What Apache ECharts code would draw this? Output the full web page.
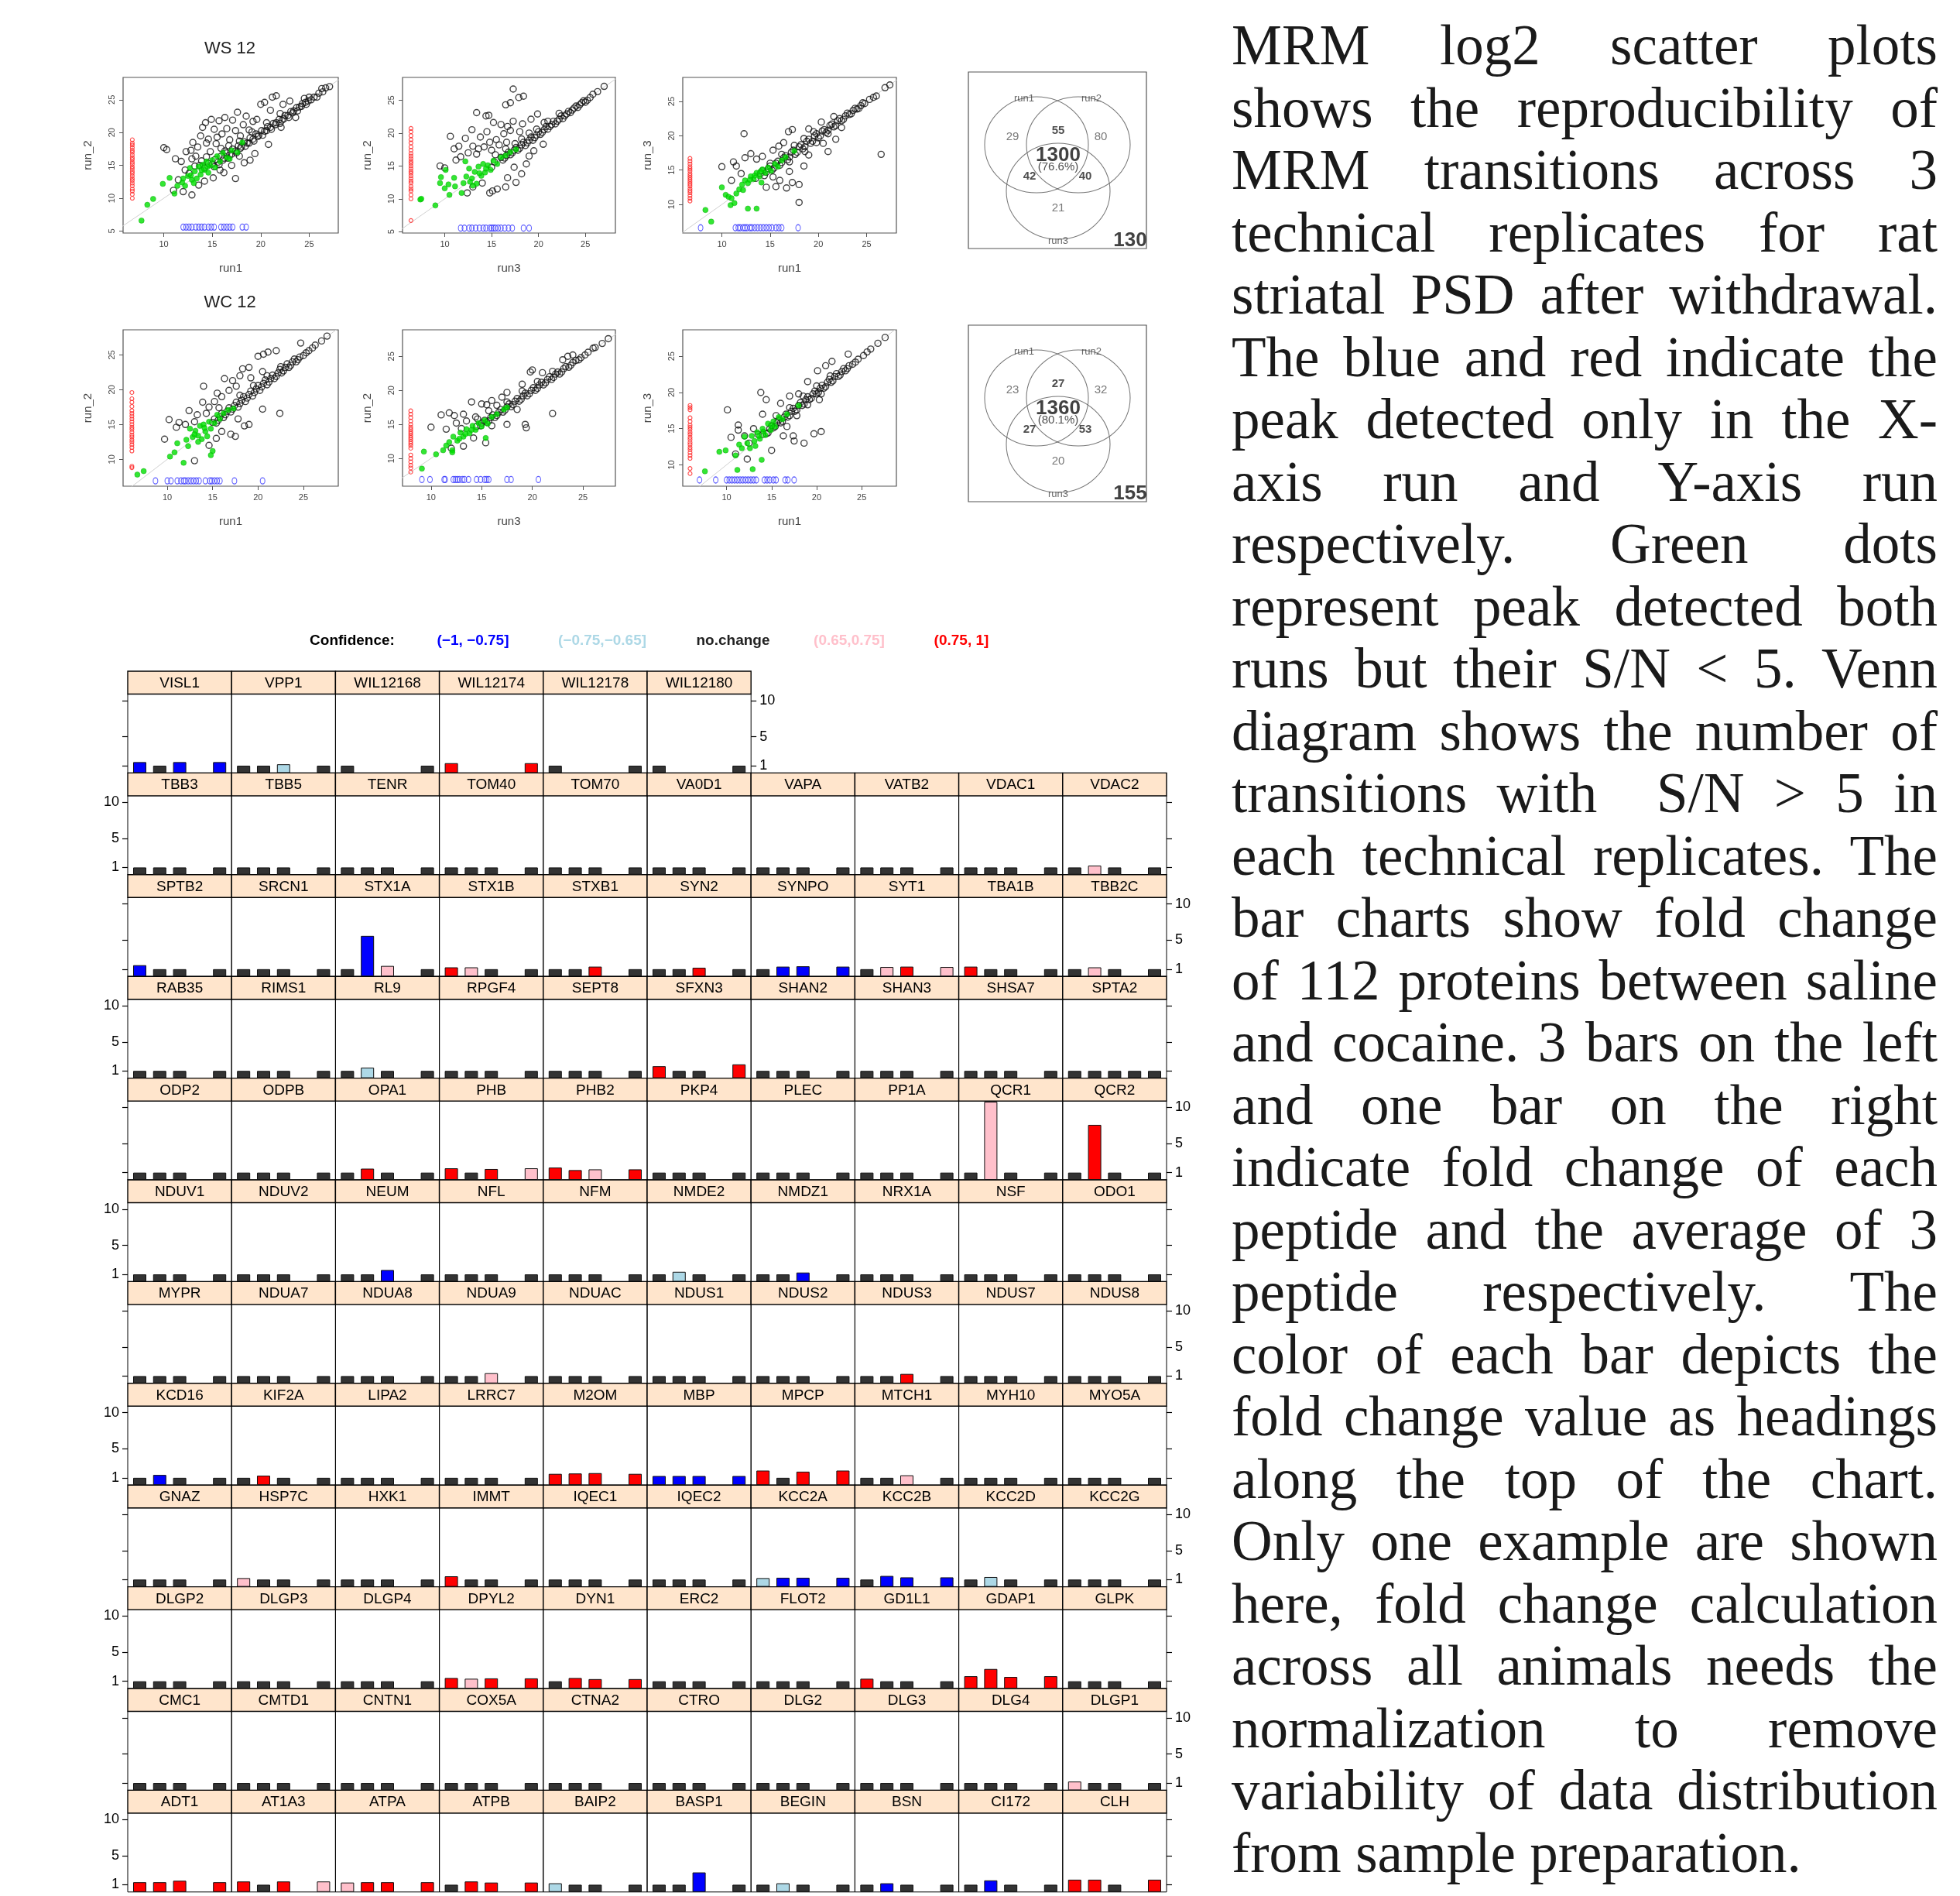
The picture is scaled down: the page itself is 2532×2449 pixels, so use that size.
<!DOCTYPE html>
<html>
<head>
<meta charset="utf-8">
<title>MRM reproducibility and fold change</title>
<script src="https://cdn.jsdelivr.net/npm/echarts@6/dist/echarts.min.js"></script>
<style>
  html, body { margin: 0; padding: 0; background: #fff; }
  #chart { position: absolute; left: 0; top: 0; width: 1570px; height: 2449px; }
  #note {
    position: absolute; left: 1591px; top: 19px; width: 912px;
    font-family: 'Liberation Serif', 'Times New Roman', serif;
    font-size: 73px; line-height: 80.5px; color: #1a1a1a;
  }
  #note div { text-align: justify; text-align-last: justify; }
  #note div.last { text-align-last: left; }
</style>
</head>
<body>
<div id="chart"></div>
<div id="note">
  <div>MRM log2 scatter plots</div>
  <div>shows the reproducibility of</div>
  <div>MRM transitions across 3</div>
  <div>technical replicates for rat</div>
  <div>striatal PSD after withdrawal.</div>
  <div>The blue and red indicate the</div>
  <div>peak detected only in the X-</div>
  <div>axis run and Y-axis run</div>
  <div>respectively. Green dots</div>
  <div>represent peak detected both</div>
  <div>runs but their S/N &lt; 5. Venn</div>
  <div>diagram shows the number of</div>
  <div>transitions with &nbsp;S/N &gt; 5 in</div>
  <div>each technical replicates. The</div>
  <div>bar charts show fold change</div>
  <div>of 112 proteins between saline</div>
  <div>and cocaine. 3 bars on the left</div>
  <div>and one bar on the right</div>
  <div>indicate fold change of each</div>
  <div>peptide and the average of 3</div>
  <div>peptide respectively. The</div>
  <div>color of each bar depicts the</div>
  <div>fold change value as headings</div>
  <div>along the top of the chart.</div>
  <div>Only one example are shown</div>
  <div>here, fold change calculation</div>
  <div>across all animals needs the</div>
  <div>normalization to remove</div>
  <div>variability of data distribution</div>
  <div class="last">from sample preparation.</div>
</div>
<script>
// ---------- scatter data (log2 intensity, [x run, y run]) ----------
// WS 12: run1 vs run_2
const wsRun1Run2Black = [
  [14.2,14.6],[14.6,15.3],[15.0,15.2],[15.3,15.9],[15.6,15.5],[15.9,16.4],[16.2,16.1],[16.5,16.9],[16.8,16.6],[17.1,17.5],
  [17.4,17.2],[17.7,18.0],[18.0,17.8],[18.3,18.6],[18.6,18.4],[18.9,19.2],[19.2,19.0],[19.5,19.8],[19.8,19.6],[20.1,20.3],
  [20.4,20.2],[20.7,20.9],[21.0,20.8],[21.3,21.4],[21.6,21.5],[21.9,22.0],[22.2,21.9],[22.5,22.6],[22.8,22.6],[23.1,23.2],
  [23.4,23.3],[23.7,23.8],[24.0,23.9],[24.3,24.4],[24.6,24.6],[24.9,24.8],[25.5,25.4],[26.0,26.0],[26.7,26.8],[27.1,27.0],
  [15.2,14.8],[15.7,15.1],[16.1,15.8],[16.6,16.1],[17.0,16.7],[17.5,16.9],[17.9,17.6],[18.4,17.9],[18.8,18.4],[19.3,18.7],
  [19.7,19.4],[20.2,19.6],[20.6,20.3],[21.1,20.5],[21.5,21.2],[22.0,21.4],[22.4,22.1],[22.9,22.3],[23.3,23.0],[23.8,23.3],
  [24.2,24.0],[24.7,24.3],[25.2,25.0],[25.8,25.4],[26.4,26.2],[16.3,17.2],[17.8,18.7],[19.1,20.1],[20.6,21.5],[22.0,22.9],
  [10.0,17.7],[10.3,17.4],[11.2,16.0],[11.8,15.6],[12.3,17.1],[12.8,17.3],[13.0,18.5],[13.3,16.4],[13.5,17.8],[13.8,19.5],
  [14.0,20.8],[14.3,21.5],[14.6,19.0],[14.9,22.0],[15.2,20.5],[15.4,18.3],[15.7,21.8],[16.0,19.8],[16.3,22.3],[16.5,20.6],
  [16.8,18.9],[17.1,21.9],[17.4,20.3],[17.6,23.1],[17.9,19.5],[18.2,21.2],[18.5,22.5],[18.8,20.4],[19.2,21.7],[19.6,22.0],
  [20.0,24.3],[20.4,24.6],[21.2,25.4],[21.6,25.6],[21.0,23.4],[22.3,24.3],[23.0,24.8],[24.5,25.2],[25.0,25.4],[26.3,26.7],
  [12.9,10.5],[12.0,11.0],[13.6,12.0],[14.2,12.6],[15.1,13.1],[16.2,13.9],[17.4,13.0],[17.0,15.0],[18.3,15.4],[18.9,15.8],
  [19.4,16.8],[20.8,18.2],[22.1,20.8],[23.6,22.3],[15.8,14.3],[17.8,16.4],[11.5,12.8],[12.6,13.8],[13.2,14.9],[13.9,15.7],
  [14.4,16.3],[12.2,14.3],[11.0,11.2],[14.8,17.1],[15.9,17.6],[16.7,18.0],[13.7,15.0],[12.9,16.0],[14.4,18.4],[15.5,19.3]
];
const wsRun1Run2Green = [
  [7.7,6.6],[8.3,9.0],[8.9,9.9],[9.9,12.2],[10.6,13.1],[11.1,10.7],[11.4,11.9],[11.9,12.4],[12.2,11.9],[12.5,13.4],
  [12.7,14.6],[12.9,12.8],[13.2,14.1],[13.4,13.0],[13.6,14.8],[13.8,13.6],[14.0,15.1],[14.2,14.3],[14.4,15.6],[14.6,13.9],
  [14.8,15.0],[15.0,15.8],[15.3,14.7],[15.5,16.4],[15.8,15.6],[16.1,16.9],[16.5,16.2],[17.0,17.3],[17.6,17.0],[18.1,18.5],
  [16.8,16.0],[13.1,12.3],[12.0,13.0],[13.9,14.3],[14.5,14.8],[12.8,13.5]
];
const wsRun1Run2OnlyY = [10.0,10.6,11.1,11.4,11.9,12.3,12.7,13.0,13.4,13.8,14.1,14.5,14.8,15.2,15.5,15.9,16.2,16.6,17.0,17.3,17.7,18.1,18.4,18.9];
const wsRun1Run2OnlyX = [12.0,12.3,12.6,12.9,13.3,13.6,13.9,14.2,14.6,14.9,15.2,15.9,16.2,16.5,16.8,17.1,18.1,18.5];

// WS 12: run3 vs run_2
const wsRun3Run2Black = [
  [16.0,16.3],[16.4,16.2],[16.8,17.1],[17.2,17.0],[17.6,17.8],[18.0,17.7],[18.4,18.6],[18.8,18.5],[19.2,19.4],[19.6,19.3],
  [20.0,20.2],[20.4,20.1],[20.8,21.0],[21.2,21.0],[21.6,21.8],[22.0,21.8],[22.4,22.6],[22.8,22.6],[23.2,23.3],[23.6,23.5],
  [24.0,24.1],[24.4,24.3],[24.8,24.9],[25.2,25.0],[25.8,25.9],[26.3,26.3],[27.0,27.1],[17.5,18.4],[19.0,20.0],[21.0,21.8],
  [15.3,15.6],[15.0,14.8],
  [16.2,15.9],[16.6,16.6],[17.0,16.7],[17.4,17.4],[17.8,17.4],[18.2,18.2],[18.6,18.1],[19.0,18.9],[19.4,18.9],[19.8,19.7],
  [20.2,19.8],[20.6,20.5],[21.0,20.6],[21.4,21.3],[21.8,21.4],[22.2,22.1],[22.6,22.2],[23.0,22.9],[23.4,23.1],[23.8,23.8],
  [24.2,23.9],[24.6,24.6],[25.0,24.7],[25.5,25.4],[16.5,17.6],[18.2,19.1],[19.8,20.6],[20.6,21.6],[22.2,23.0],
  [17.3,26.7],[16.5,24.3],[17.0,24.6],[17.9,25.4],[18.4,25.6],[13.4,23.1],[14.4,22.6],[14.7,22.7],[15.2,21.6],[16.0,21.3],
  [16.7,21.0],[17.3,21.8],[18.3,21.4],[19.2,22.1],[19.9,22.9],[12.9,20.5],[10.6,19.5],[11.5,18.0],[11.0,17.6],[12.2,19.2],
  [13.0,18.0],[13.8,19.4],[14.5,20.2],[15.5,19.0],[16.3,19.9],[17.0,20.4],[11.7,16.4],[12.5,17.0],[13.4,16.8],[14.2,17.9],
  [15.0,17.4],[15.8,18.2],[16.6,18.6],[18.0,20.2],[9.5,15.0],[11.2,15.9],[10.0,14.7],[14.8,18.6],[13.6,17.6],[15.4,16.7],
  [15.6,11.5],[16.5,11.8],[14.8,10.9],[15.1,11.2],[16.7,13.2],[17.6,12.5],[18.2,13.8],[18.7,15.3],[19.5,17.3],[20.5,18.3],
  [17.4,14.8],[14.0,12.4],[13.0,11.8],[12.4,10.9],[19.0,16.5]
];
const wsRun3Run2Green = [
  [7.4,9.9],[7.5,10.0],[9.0,9.0],[9.5,12.4],[9.6,13.3],[10.1,14.4],[10.0,11.6],[10.5,10.6],[10.4,12.2],[11.0,13.2],
  [11.1,11.9],[11.8,10.9],[12.0,12.4],[12.3,13.4],[12.6,14.6],[12.9,13.1],[13.2,14.1],[13.4,12.3],[13.6,14.9],[13.9,13.5],
  [14.1,15.3],[14.3,14.0],[14.6,15.1],[14.9,14.4],[15.2,15.8],[15.6,15.3],[16.0,16.3],[16.5,16.6],[17.0,17.1],[17.6,17.5],
  [12.2,15.7],[13.0,12.0],[13.7,13.9],[14.4,14.6],[12.7,12.6]
];
const wsRun3Run2OnlyY = [6.7,10.0,10.6,11.2,11.5,11.9,12.4,12.7,13.1,13.5,13.9,14.2,14.6,15.0,15.4,15.7,16.1,16.5,16.9,17.4,17.9,18.5,19.0,19.6,20.2,20.7];
const wsRun3Run2OnlyX = [11.7,12.1,12.6,12.9,13.3,13.7,14.1,14.4,14.8,15.0,15.2,15.4,15.7,16.0,16.4,16.8,17.2,18.4,19.0];

// WS 12: run1 vs run_3
const wsRun1Run3Black = [
  [13.5,13.8],[14.0,14.5],[14.4,14.2],[14.8,15.2],[15.2,15.0],[15.6,16.0],[16.0,15.7],[16.4,16.8],[16.8,16.5],[17.2,17.6],
  [17.6,17.3],[18.0,18.4],[18.4,18.1],[18.8,19.2],[19.2,18.9],[19.6,20.0],[20.0,19.7],[20.4,20.7],[20.8,20.5],[21.2,21.5],
  [21.6,21.3],[22.0,22.2],[22.4,22.2],[22.8,22.9],[23.2,23.1],[23.6,23.7],[24.0,23.9],[24.4,24.4],[24.8,24.7],[25.3,25.3],
  [26.0,25.8],[26.9,27.0],[27.4,27.4],[15.0,16.0],[16.2,17.3],[17.5,18.6],[18.5,19.6],[19.5,20.6],[17.0,16.2],[18.6,17.7],
  [19.8,19.0],[21.0,20.3],
  [14.2,14.9],[14.6,14.7],[15.0,15.6],[15.4,15.3],[15.8,16.3],[16.2,16.1],[16.6,17.1],[17.0,16.9],[17.4,17.9],[17.8,17.6],
  [18.2,18.7],[18.6,18.4],[19.0,19.5],[19.4,19.2],[19.8,20.3],[20.2,20.0],[20.6,20.9],[21.0,20.8],[21.4,21.7],[21.8,21.5],
  [22.2,22.5],[22.6,22.4],[23.0,23.3],[23.4,23.2],[23.8,24.0],[24.2,24.0],[24.6,24.8],[25.7,25.6],
  [12.3,20.3],[17.3,20.9],[16.9,20.6],[13.0,17.4],[12.4,16.8],[11.2,16.2],[10.0,15.5],[11.5,15.6],[12.0,14.5],[11.0,13.5],
  [13.6,16.6],[14.2,17.0],[15.3,17.9],[15.9,18.5],[16.4,19.0],[19.0,21.0],[20.3,22.0],[21.6,22.8],[19.0,17.2],[20.5,18.9],
  [21.0,17.7],[21.8,19.5],[22.4,21.2],[26.5,17.3],[18.0,10.3],[17.3,13.2],[18.0,12.9],[16.7,12.4],[15.6,12.6],[14.6,12.5],
  [16.0,13.5],[17.0,14.8],[18.5,15.6],[15.3,14.0]
];
const wsRun1Run3Green = [
  [8.3,9.2],[8.9,7.5],[10.0,12.5],[10.4,11.4],[10.7,11.1],[11.0,10.9],[11.3,10.2],[10.9,9.9],[11.5,11.6],[11.8,12.2],
  [12.1,12.9],[12.4,13.5],[12.7,13.1],[13.0,14.1],[13.3,13.7],[13.6,14.6],[13.9,14.1],[14.2,15.1],[14.5,14.6],[14.8,15.4],
  [15.1,14.9],[15.5,15.9],[15.8,15.5],[16.2,16.4],[16.6,16.9],[17.5,17.8],[12.7,9.4],[13.6,9.4],[12.2,12.1],[14.1,13.2],
  [13.4,14.2],[14.0,14.8],[12.9,13.6]
];
const wsRun1Run3OnlyY = [10.5,10.9,11.3,11.7,12.0,12.3,12.7,13.0,13.3,13.6,13.9,14.2,14.5,14.9,15.2,15.5,15.9,16.3,16.7];
const wsRun1Run3OnlyX = [7.8,11.4,11.7,11.9,12.2,12.4,12.6,12.9,13.1,13.4,13.7,14.0,14.3,14.6,14.9,15.2,15.6,15.9,16.2,17.9];

// WC 12: run1 vs run_2
const wcRun1Run2Black = [
  [15.0,15.3],[15.4,15.2],[15.8,16.1],[16.2,16.0],[16.6,16.9],[17.0,16.8],[17.4,17.7],[17.8,17.5],[18.2,18.5],[18.6,18.3],
  [19.0,19.3],[19.4,19.1],[19.8,20.1],[20.2,19.9],[20.6,20.9],[21.0,20.7],[21.4,21.6],[21.8,21.6],[22.2,22.4],[22.6,22.4],
  [23.0,23.2],[23.4,23.2],[23.8,24.0],[24.2,24.0],[24.6,24.7],[25.0,24.9],[25.6,25.6],[26.3,26.4],[27.0,27.0],[27.6,27.7],
  [18.0,19.2],[19.5,20.6],[21.0,22.0],[22.5,23.3],
  [15.2,15.8],[15.6,15.6],[16.0,16.6],[16.4,16.4],[16.8,17.4],[17.2,17.2],[17.6,18.2],[18.0,18.0],[18.4,19.0],[18.8,18.8],
  [19.2,19.8],[19.6,19.6],[20.0,20.6],[20.4,20.4],[20.8,21.4],[21.2,21.1],[21.6,22.1],[22.0,21.9],[22.4,22.9],[22.8,22.7],
  [23.2,23.7],[23.6,23.5],[24.0,24.4],[24.4,24.3],[25.3,25.3],[26.0,26.0],
  [14.0,20.5],[15.5,19.5],[16.3,21.6],[17.2,21.3],[18.0,22.0],[18.3,23.0],[19.0,23.2],[20.0,24.8],[20.6,25.1],[21.1,25.4],
  [22.0,25.6],[24.7,26.7],[12.4,17.0],[10.2,15.7],[11.3,15.3],[13.3,16.4],[14.6,17.5],[15.2,18.3],[16.0,19.0],[16.8,19.9],
  [17.6,20.5],[19.2,21.7],[20.5,22.6],[13.9,18.2],[12.0,15.0],[11.0,14.6],[9.7,12.9],[14.3,16.6],[15.7,17.4],[13.0,15.4],
  [20.5,17.2],[22.4,16.6],[18.5,14.8],[19.0,15.0],[17.0,13.6],[17.5,13.3],[13.0,9.8],[16.0,14.0],[17.8,15.8],[15.4,13.0],
  [14.6,12.0]
];
const wcRun1Run2Green = [
  [6.7,7.8],[7.4,8.3],[10.3,10.4],[10.8,11.0],[11.1,12.3],[11.8,9.5],[12.1,12.8],[12.5,14.4],[12.8,13.2],[13.1,14.1],
  [13.4,13.4],[13.6,14.8],[13.8,12.9],[14.0,15.0],[14.2,14.0],[14.4,13.3],[14.6,15.4],[14.8,14.4],[15.0,11.2],[14.8,10.6],
  [15.2,15.2],[15.5,16.4],[15.8,15.8],[16.2,16.6],[16.7,17.1],[17.3,17.3],[12.3,11.9],[13.4,12.5],[14.1,14.5],[13.0,13.6]
];
const wcRun1Run2OnlyY = [8.8,9.0,11.2,11.7,12.1,12.5,12.8,13.2,13.5,13.9,14.3,14.6,15.0,15.4,15.8,16.2,16.6,17.0,17.6,18.2,18.7,19.6];
const wcRun1Run2OnlyX = [8.7,10.0,10.4,11.1,11.5,11.8,12.0,12.3,12.6,12.9,13.2,13.5,14.2,14.7,14.9,15.2,15.5,15.8,17.4,20.5];

// WC 12: run3 vs run_2
const wcRun3Run2Black = [
  [14.5,14.7],[14.9,14.8],[15.3,15.6],[15.7,15.5],[16.1,16.4],[16.5,16.3],[16.9,17.2],[17.3,17.1],[17.7,18.0],[18.1,17.9],
  [18.5,18.8],[18.9,18.7],[19.3,19.6],[19.7,19.5],[20.1,20.4],[20.5,20.3],[20.9,21.2],[21.3,21.1],[21.7,22.0],[22.1,21.9],
  [22.5,22.7],[22.9,22.7],[23.3,23.5],[23.8,23.7],[24.3,24.4],[24.8,24.8],[25.5,25.6],[26.2,26.3],[26.9,26.9],[27.5,27.6],
  [17.5,18.3],[19.0,19.9],[20.5,21.3],
  [15.0,15.2],[15.5,15.3],[15.9,16.0],[16.3,16.0],[16.7,16.8],[17.1,16.8],[17.5,17.6],[17.9,17.6],[18.3,18.4],[18.7,18.4],
  [19.1,19.2],[19.5,19.2],[19.9,20.0],[20.3,20.0],[20.7,20.8],[21.1,20.8],[21.5,21.6],[21.9,21.6],[22.3,22.4],[22.7,22.4],
  [23.1,23.2],[23.6,23.4],[24.0,24.1],[24.6,24.5],[25.2,25.2],
  [14.0,18.3],[15.0,18.0],[15.5,17.9],[16.0,18.5],[17.0,19.0],[17.5,19.7],[19.0,20.9],[19.8,22.7],[20.0,23.0],[21.0,22.6],
  [22.0,22.8],[23.0,24.5],[23.5,25.0],[24.0,25.2],[26.0,26.2],[11.0,16.4],[10.0,14.6],[11.8,16.7],[12.3,16.3],[13.2,16.5],
  [14.4,16.1],[12.5,15.2],[13.5,15.5],[11.5,14.3],[15.7,17.0],[16.5,17.8],[22.0,16.6],[19.3,15.0],[19.4,14.5],[17.5,15.0],
  [15.4,12.3],[13.2,11.8],[16.0,14.8],[18.5,17.2],[14.2,13.0],[12.0,11.5],[13.0,14.4],[14.6,15.8]
];
const wcRun3Run2Green = [
  [9.1,8.5],[9.3,11.0],[10.5,10.6],[11.2,11.2],[11.5,11.9],[11.8,12.4],[12.1,11.2],[12.2,13.2],[12.6,12.6],[12.9,13.8],
  [13.2,13.2],[13.5,14.3],[13.8,13.7],[14.1,14.8],[14.4,14.2],[14.7,15.2],[15.0,14.7],[15.3,15.6],[15.6,15.1],[16.0,16.1],
  [16.5,16.5],[17.2,17.2],[17.5,17.5],[15.4,13.0],[12.1,10.9],[13.4,13.6],[14.0,14.2],[12.8,12.9]
];
const wcRun3Run2OnlyY = [8.0,8.6,9.0,9.5,10.0,10.5,11.5,11.9,12.2,12.5,12.8,13.1,13.4,13.7,14.0,14.3,14.6,15.0,15.5,16.0,16.5,17.0];
const wcRun3Run2OnlyX = [9.1,9.9,11.3,11.4,12.2,12.4,12.6,12.8,13.1,13.3,13.7,14.5,14.9,15.3,15.5,15.7,17.5,17.9,20.6];

// WC 12: run1 vs run_3
const wcRun1Run3Black = [
  [14.0,14.2],[14.4,14.3],[14.8,15.0],[15.2,15.1],[15.6,15.8],[16.0,15.8],[16.4,16.6],[16.8,16.6],[17.2,17.4],[17.6,17.4],
  [18.0,18.2],[18.4,18.2],[18.8,19.0],[19.2,19.0],[19.6,19.8],[20.0,19.8],[20.4,20.6],[20.8,20.6],[21.2,21.4],[21.6,21.4],
  [22.0,22.2],[22.4,22.2],[22.8,22.9],[23.2,23.0],[23.6,23.7],[24.0,23.9],[24.6,24.6],[25.2,25.1],[26.0,26.0],[26.8,26.8],
  [27.6,27.6],[17.0,17.9],[18.5,19.5],[20.0,20.9],[21.5,22.3],[19.0,18.3],[20.5,19.8],
  [14.6,14.4],[15.0,15.4],[15.4,15.3],[15.8,16.2],[16.2,16.0],[16.6,17.0],[17.0,16.8],[17.4,17.8],[17.8,17.6],[18.2,18.6],
  [18.6,18.4],[19.0,19.4],[19.4,19.2],[19.8,20.2],[20.2,20.0],[20.6,21.0],[21.0,20.8],[21.4,21.8],[21.8,21.6],[22.2,22.6],
  [22.6,22.4],[23.0,23.3],[23.4,23.3],[24.3,24.2],[25.6,25.6],
  [13.8,20.0],[14.4,19.0],[10.1,17.6],[11.3,15.5],[11.3,14.8],[10.5,13.8],[12.0,14.0],[13.0,15.0],[14.0,17.0],[16.0,18.5],
  [17.0,19.5],[18.0,19.8],[19.0,21.5],[20.1,23.0],[21.0,23.7],[21.7,24.3],[23.5,25.3],[18.6,13.0],[17.5,13.3],[17.4,14.0],
  [16.3,14.0],[15.0,12.0],[12.3,10.8],[19.7,14.3],[20.5,14.6],[16.7,15.3],[15.5,16.8],[12.5,13.0],[13.5,14.2],[11.0,11.5],
  [20.3,19.0],[17.8,16.8]
];
const wcRun1Run3Green = [
  [7.6,9.1],[9.2,11.8],[9.9,12.0],[11.0,11.3],[11.2,9.3],[11.4,12.8],[11.7,12.3],[12.0,13.9],[12.3,13.0],[12.6,12.3],
  [12.8,14.0],[12.9,9.4],[13.1,13.3],[13.4,14.5],[13.7,13.6],[13.9,10.7],[14.0,15.0],[14.3,14.1],[14.6,15.7],[14.9,14.8],
  [15.2,16.0],[15.4,15.3],[15.8,16.6],[16.2,16.3],[16.7,17.0],[18.0,18.2],[13.2,12.6],[14.1,14.6],[13.6,14.0],[15.0,15.4]
];
const wcRun1Run3OnlyY = [8.8,9.5,10.9,11.3,11.7,12.1,12.4,12.8,13.1,13.5,13.8,14.2,14.5,14.9,15.2,15.5,16.0,16.5,17.6,17.9,18.2];
const wcRun1Run3OnlyX = [7.0,8.8,10.0,10.3,10.6,10.9,11.2,11.5,11.8,12.1,12.4,12.7,13.0,13.3,14.2,14.5,14.8,15.2,15.5,16.5,16.8,17.5];

const identityLine = [[0, 0], [30, 30]];

// ---------- Venn counts (transitions with S/N > 5) ----------
const vennSets = ['run1', 'run2', 'run3'];
// order: run1 only, run1&2, run2 only, all three, run1&3, run2&3, run3 only
const vennWS = [29, 55, 80, 1300, 42, 40, 21];
const vennWC = [23, 27, 32, 1360, 27, 53, 20];
const vennShare = ['(76.6%)', '(80.1%)'];
const vennNone = [130, 155];

// ---------- fold change bar panels ----------
const proteins = [
  'VISL1','VPP1','WIL12168','WIL12174','WIL12178','WIL12180',
  'TBB3','TBB5','TENR','TOM40','TOM70','VA0D1','VAPA','VATB2','VDAC1','VDAC2',
  'SPTB2','SRCN1','STX1A','STX1B','STXB1','SYN2','SYNPO','SYT1','TBA1B','TBB2C',
  'RAB35','RIMS1','RL9','RPGF4','SEPT8','SFXN3','SHAN2','SHAN3','SHSA7','SPTA2',
  'ODP2','ODPB','OPA1','PHB','PHB2','PKP4','PLEC','PP1A','QCR1','QCR2',
  'NDUV1','NDUV2','NEUM','NFL','NFM','NMDE2','NMDZ1','NRX1A','NSF','ODO1',
  'MYPR','NDUA7','NDUA8','NDUA9','NDUAC','NDUS1','NDUS2','NDUS3','NDUS7','NDUS8',
  'KCD16','KIF2A','LIPA2','LRRC7','M2OM','MBP','MPCP','MTCH1','MYH10','MYO5A',
  'GNAZ','HSP7C','HXK1','IMMT','IQEC1','IQEC2','KCC2A','KCC2B','KCC2D','KCC2G',
  'DLGP2','DLGP3','DLGP4','DPYL2','DYN1','ERC2','FLOT2','GD1L1','GDAP1','GLPK',
  'CMC1','CMTD1','CNTN1','COX5A','CTNA2','CTRO','DLG2','DLG3','DLG4','DLGP1',
  'ADT1','AT1A3','ATPA','ATPB','BAIP2','BASP1','BEGIN','BSN','CI172','CLH'
];
// 3 peptides, gap, average
const foldChange = [
  [1.5,1,1.5,null,1.5],[1,1,1.2,null,1],[1,null,null,null,1],[1.35,null,null,null,1.35],[1,null,null,null,1],[1,null,null,null,1],
  [1,1,1,null,1],[1,1,1,null,1],[1,1,1,null,1],[1,1,1,null,1],[1,1,1,null,1],[1,1,1,null,1],[1,1,1,null,1],[1,1,1,null,1],[1,1,1,null,1],[1,1.25,1,null,1],
  [1.55,1,1,null,1],[1,1,1,null,1],[1,5.6,1.45,null,1],[1.25,1.25,1,null,1],[1,1,1.35,null,1],[1,1,1.2,null,1],[1,1.35,1.4,null,1.35],[1,1.3,1.35,null,1.3],[1.35,1,1,null,1],[1,1.25,1,null,1],
  [1,1,1,null,1],[1,1,1,null,1],[1,1.45,1,null,1],[1,1,1,null,1],[1,1,1,null,1],[1.65,1,1,null,1.9],[1,1,1,null,1],[1,1,1,null,1],[1,1,1,null,1],[1,1,1,1,1],
  [1,1,1,null,1],[1,1,1,null,1],[1,1.55,1,null,1],[1.6,1,1.5,null,1.6],[1.7,1.35,1.45,null,1.45],[1,1,1,null,1],[1,1,1,null,1],[1,1,1,null,1],[1,10.8,1,null,1],[1,7.6,1,null,1],
  [1,1,1,null,1],[1,1,1,null,1],[1,1,1.6,null,1],[1,1,1,null,1],[1,1,1,null,1],[1,1.35,1,null,1],[1,1,1.25,null,1],[1,1,1,null,1],[1,1,1,null,1],[1,1,1,null,1],
  [1,1,1,null,1],[1,1,1,null,1],[1,1,1,null,1],[1,1,1.4,null,1],[1,1,1,null,1],[1,1,1,null,1],[1,1,1,null,1],[1,1,1.3,null,1],[1,1,1,null,1],[1,1,1,null,1],
  [1,1.4,1,null,1],[1,1.3,1,null,1],[1,1,1,null,1],[1,1,1,null,1],[1.55,1.6,1.65,null,1.55],[1.25,1.25,1.25,null,1.25],[2.0,1,1.85,null,2.0],[1,1,1.35,null,1],[1,1,1,null,1],[1,1,1,null,1],
  [1,1,1,null,1],[1.2,1,1,null,1],[1,1,1,null,1],[1.45,1,1,null,1],[1,1,1,null,1],[1,1,1,null,1],[1.2,1.25,1.25,null,1.25],[1,1.5,1.3,null,1.3],[1,1.35,1,null,1],[1,1,1,null,1],
  [1,1,1,null,1],[1,1,1,null,1],[1,1,1,null,1],[1.45,1.35,1.4,null,1.4],[1,1.45,1.3,null,1.3],[1,1,1,null,1],[1,1,1,null,1],[1.35,1,1,null,1],[1.7,2.7,1.6,null,1.7],[1,1,1,null,1],
  [1,1,1,null,1],[1,1,1,null,1],[1,1,1,null,1],[1,1,1,null,1],[1,1,1,null,1],[1,1,1,null,1],[1,1,1,null,1],[1,1,1,null,1],[1,1,1,null,1],[1.2,1,1,null,1],
  [1.35,1.35,1.55,null,1.35],[1.45,1,1.45,null,1.45],[1.3,1.35,1.35,null,1.35],[1,1.45,1.3,null,1.3],[1.2,1,1,null,1],[1,1,2.7,null,1],[1,1.2,1,null,1],[1,1.2,1,null,1],[1,1.6,1,null,1],[1.7,1.7,1,null,1.7]
];
// b (-1,-0.75]  l (-0.75,-0.65]  n no.change  p (0.65,0.75]  r (0.75,1]
const confidence = [
  'bnb-b','nnl-n','n---n','r---r','n---n','n---n',
  'nnn-n','nnn-n','nnn-n','nnn-n','nnn-n','nnn-n','nnn-n','nnn-n','nnn-n','npn-n',
  'bnn-n','nnn-n','nbp-n','rpn-n','nnr-n','nnr-n','nbb-b','npr-p','rnn-n','npn-n',
  'nnn-n','nnn-n','nln-n','nnn-n','nnn-n','rnn-r','nnn-n','nnn-n','nnn-n','nnnnn',
  'nnn-n','nnn-n','nrn-n','rnr-p','rrp-r','nnn-n','nnn-n','nnn-n','npn-n','nrn-n',
  'nnn-n','nnn-n','nnb-n','nnn-n','nnn-n','nln-n','nnb-n','nnn-n','nnn-n','nnn-n',
  'nnn-n','nnn-n','nnn-n','nnp-n','nnn-n','nnn-n','nnn-n','nnr-n','nnn-n','nnn-n',
  'nbn-n','nrn-n','nnn-n','nnn-n','rrr-r','bbb-b','rnr-r','nnp-n','nnn-n','nnn-n',
  'nnn-n','pnn-n','nnn-n','rnn-n','nnn-n','nnn-n','lbb-b','nbb-b','nln-n','nnn-n',
  'nnn-n','nnn-n','nnn-n','rpr-r','nrr-r','nnn-n','nnn-n','rnn-n','rrr-r','nnn-n',
  'nnn-n','nnn-n','nnn-n','nnn-n','nnn-n','nnn-n','nnn-n','nnn-n','nnn-n','pnn-n',
  'rrr-r','rnr-p','prr-r','nrr-r','lnn-n','nnb-n','nln-n','nbn-n','nbn-n','rrn-r'
];
const confLabels = ['(\u22121, \u22120.75]', '(\u22120.75,\u22120.65]', 'no.change', '(0.65,0.75]', '(0.75, 1]'];
const yTickValues = [1, 5, 10];

// ---------- layout ----------
const SANS = "'Liberation Sans', Arial, sans-serif";
const confColor = { b: '#0000ff', l: '#add8e6', n: '#333333', p: '#ffc0cb', r: '#ff0000' };
const legendColors = ['#0000ff', '#add8e6', '#222222', '#ffc0cb', '#ff0000'];
const legendX = [611, 778, 947, 1097, 1242];
const rowSizes = [6, 10, 10, 10, 10, 10, 10, 10, 10, 10, 10, 10];
const BAR_LEFT = 165, COL_W = 134.2, BAR_TOP = 867, ROW_H = 131.4, STRIP_H = 29.5, Y_MAX = 10.9;

const grids = [], xAxes = [], yAxes = [], series = [], graphics = [];

function txt(x, y, text, size, color, weight, font) {
  return {
    type: 'text', x: x, y: y, silent: true,
    style: { text: text, fill: color, fontSize: size, fontWeight: weight || 'normal',
      fontFamily: font || SANS, align: 'center', verticalAlign: 'middle',
      textAlign: 'center', textVerticalAlign: 'middle' }
  };
}

// scatter plots
const scatterPlots = [
  { box: [159, 100, 278, 201], xr: [5.8, 28.0], yr: [4.7, 28.4], yTicks: [5,10,15,20,25], xName: 'run1', yName: 'run_2',
    missX: 6.75, missY: 5.6, black: wsRun1Run2Black, green: wsRun1Run2Green, red: wsRun1Run2OnlyY, blue: wsRun1Run2OnlyX },
  { box: [520, 100, 275, 201], xr: [5.5, 28.2], yr: [4.8, 28.46], yTicks: [5,10,15,20,25], xName: 'run3', yName: 'run_2',
    missX: 6.4, missY: 5.55, black: wsRun3Run2Black, green: wsRun3Run2Green, red: wsRun3Run2OnlyY, blue: wsRun3Run2OnlyX },
  { box: [882, 100, 276, 201], xr: [5.95, 28.08], yr: [5.84, 28.5], yTicks: [10,15,20,25], xName: 'run1', yName: 'run_3',
    missX: 6.7, missY: 6.6, black: wsRun1Run3Black, green: wsRun1Run3Green, red: wsRun1Run3OnlyY, blue: wsRun1Run3OnlyX },
  { box: [159, 426, 278, 202], xr: [5.13, 28.84], yr: [6.14, 28.6], yTicks: [10,15,20,25], xName: 'run1', yName: 'run_2',
    missX: 6.1, missY: 6.9, black: wcRun1Run2Black, green: wcRun1Run2Green, red: wcRun1Run2OnlyY, blue: wcRun1Run2OnlyX },
  { box: [520, 426, 275, 202], xr: [7.19, 28.2], yr: [5.92, 28.9], yTicks: [10,15,20,25], xName: 'run3', yName: 'run_2',
    missX: 8.0, missY: 6.9, black: wcRun3Run2Black, green: wcRun3Run2Green, red: wcRun3Run2OnlyY, blue: wcRun3Run2OnlyX },
  { box: [882, 426, 276, 202], xr: [5.14, 28.85], yr: [7.05, 28.66], yTicks: [10,15,20,25], xName: 'run1', yName: 'run_3',
    missX: 5.95, missY: 7.9, black: wcRun1Run3Black, green: wcRun1Run3Green, red: wcRun1Run3OnlyY, blue: wcRun1Run3OnlyX }
];

scatterPlots.forEach(function (p) {
  const g = grids.length;
  grids.push({ left: p.box[0], top: p.box[1], width: p.box[2], height: p.box[3], show: true,
    borderColor: '#555', borderWidth: 1.2, backgroundColor: 'transparent' });
  const tick = { show: true, length: 5, lineStyle: { color: '#555' } };
  xAxes.push({ gridIndex: g, type: 'value', min: p.xr[0], max: p.xr[1], name: p.xName, nameLocation: 'middle', nameGap: 38,
    nameTextStyle: { fontSize: 15, color: '#444', fontFamily: SANS },
    axisLine: { show: false }, splitLine: { show: false },
    axisTick: Object.assign({ customValues: [10, 15, 20, 25] }, tick),
    axisLabel: { customValues: [10, 15, 20, 25], fontSize: 11, color: '#444', margin: 9, fontFamily: SANS } });
  yAxes.push({ gridIndex: g, type: 'value', min: p.yr[0], max: p.yr[1], name: p.yName, nameLocation: 'middle', nameGap: 38,
    nameTextStyle: { fontSize: 15, color: '#444', fontFamily: SANS },
    axisLine: { show: false }, splitLine: { show: false },
    axisTick: Object.assign({ customValues: p.yTicks }, tick),
    axisLabel: { customValues: p.yTicks, rotate: 90, fontSize: 11, color: '#444', margin: 9, fontFamily: SANS } });
  const yi = yAxes.length - 1;
  series.push({ type: 'line', xAxisIndex: g, yAxisIndex: yi, data: identityLine, symbol: 'none', silent: true, clip: true,
    lineStyle: { color: '#d0d0d0', width: 1 }, z: 1 });
  series.push({ type: 'scatter', xAxisIndex: g, yAxisIndex: yi, data: p.black, symbol: 'circle', symbolSize: 8, silent: true,
    itemStyle: { color: 'rgba(0,0,0,0)', borderColor: '#111', borderWidth: 1.4 }, z: 2 });
  series.push({ type: 'scatter', xAxisIndex: g, yAxisIndex: yi, data: p.green, symbol: 'circle', symbolSize: 7, silent: true,
    itemStyle: { color: '#00e000', borderColor: '#00a000', borderWidth: 0.5 }, z: 3 });
  series.push({ type: 'scatter', xAxisIndex: g, yAxisIndex: yi, data: p.red.map(function (v) { return [p.missX, v]; }),
    symbol: 'circle', symbolSize: 5, silent: true,
    itemStyle: { color: 'rgba(0,0,0,0)', borderColor: '#ff2020', borderWidth: 1.1 }, z: 2 });
  series.push({ type: 'scatter', xAxisIndex: g, yAxisIndex: yi, data: p.blue.map(function (v) { return [v, p.missY]; }),
    symbol: 'circle', symbolSize: [6, 8], silent: true,
    itemStyle: { color: 'rgba(0,0,0,0)', borderColor: '#3a3aff', borderWidth: 1.2 }, z: 2 });
});
graphics.push(txt(297, 63, 'WS 12', 22, '#222'));
graphics.push(txt(297, 391, 'WC 12', 22, '#222'));

// venn diagrams
const VENN_CIRCLES = [[88, 94], [142, 94], [116, 154]];
const VENN_SET_POS = [[72, 34], [159, 34], [116, 218]];
const VENN_POS = [[57, 84], [116, 76], [171, 84], [116, 108], [79, 135], [151, 135], [116, 176]];
const VENN_STYLE = [
  [15, 'normal', '#555'], [15, 'bold', '#222'], [15, 'normal', '#555'], [26, 'bold', '#111'],
  [15, 'bold', '#222'], [15, 'bold', '#222'], [15, 'normal', '#555']
];
[[1251, 93, vennWS, 0], [1251, 420, vennWC, 1]].forEach(function (v) {
  const g = grids.length;
  grids.push({ left: v[0], top: v[1], width: 230, height: 228, show: true, borderColor: '#555', borderWidth: 1.2 });
  xAxes.push({ gridIndex: g, type: 'value', min: 0, max: 230, show: false });
  yAxes.push({ gridIndex: g, type: 'value', min: 0, max: 228, inverse: true, show: false });
  const yi = yAxes.length - 1;
  const counts = v[2], k = v[3];
  series.push({ type: 'scatter', xAxisIndex: g, yAxisIndex: yi, data: VENN_CIRCLES, symbol: 'circle', symbolSize: [134, 124],
    silent: true, itemStyle: { color: 'rgba(0,0,0,0)', borderColor: '#555', borderWidth: 1 } });
  const labels = [];
  vennSets.forEach(function (s, i) {
    labels.push({ value: VENN_SET_POS[i], label: { formatter: s, fontSize: 13, color: '#444' } });
  });
  counts.forEach(function (c, i) {
    const st = VENN_STYLE[i];
    labels.push({ value: VENN_POS[i], label: { formatter: String(c), fontSize: st[0], fontWeight: st[1], color: st[2] } });
  });
  labels.push({ value: [116, 123], label: { formatter: vennShare[k], fontSize: 15, color: '#222' } });
  labels.push({ value: [209, 218], label: { formatter: String(vennNone[k]), fontSize: 26, fontWeight: 'bold', color: '#111' } });
  series.push({ type: 'scatter', xAxisIndex: g, yAxisIndex: yi, data: labels, symbolSize: 1, silent: true,
    itemStyle: { color: 'rgba(0,0,0,0)' },
    label: { show: true, position: 'inside', fontFamily: SANS } });
});

// confidence key
graphics.push(txt(455, 828, 'Confidence:', 19, '#000', 'bold'));
confLabels.forEach(function (s, i) {
  graphics.push(txt(legendX[i], 828, s, 19, legendColors[i], 'bold'));
});

// bar panels
let k = 0;
rowSizes.forEach(function (n, r) {
  for (let c = 0; c < n; c++, k++) {
    const left = BAR_LEFT + c * COL_W;
    const stripTop = BAR_TOP + r * ROW_H;
    const g = grids.length;
    grids.push({ left: left, top: stripTop + STRIP_H, width: COL_W, height: ROW_H - STRIP_H, show: true,
      borderColor: '#000', borderWidth: 1 });
    xAxes.push({ gridIndex: g, type: 'value', min: 0.4, max: 5.6, show: false });
    const yAxisBase = {
      gridIndex: g, type: 'value', min: 0, max: Y_MAX, axisLine: { show: false }, splitLine: { show: false },
      axisTick: { show: true, length: 7, customValues: yTickValues, lineStyle: { color: '#000', width: 1.2 } }
    };
    yAxes.push(Object.assign({}, yAxisBase, { show: c === 0, position: 'left',
      axisLabel: { show: r % 2 === 1, customValues: yTickValues, fontSize: 18, color: '#000', margin: 11, fontFamily: SANS } }));
    const yi = yAxes.length - 1;
    if (c === n - 1) {
      yAxes.push(Object.assign({}, yAxisBase, { show: true, position: 'right',
        axisLabel: { show: r % 2 === 0, customValues: yTickValues, fontSize: 18, color: '#000', margin: 11, fontFamily: SANS } }));
    }
    const data = [];
    foldChange[k].forEach(function (v, i) {
      if (v === null) return;
      data.push({ value: [i + 1, v], itemStyle: { color: confColor[confidence[k][i]] } });
    });
    series.push({ type: 'bar', name: proteins[k], xAxisIndex: g, yAxisIndex: yi, data: data, barWidth: 17, silent: true,
      itemStyle: { borderColor: '#111', borderWidth: 1 } });
    graphics.push({ type: 'rect', silent: true, shape: { x: left, y: stripTop, width: COL_W, height: STRIP_H },
      style: { fill: '#ffe5cc', stroke: '#000', lineWidth: 1.4 } });
    graphics.push(txt(left + COL_W / 2, stripTop + STRIP_H / 2 + 1, proteins[k], 19, '#000'));
  }
});

const chart = echarts.init(document.getElementById('chart'));
chart.setOption({
  animation: false,
  backgroundColor: '#fff',
  textStyle: { fontFamily: SANS },
  grid: grids,
  xAxis: xAxes,
  yAxis: yAxes,
  series: series,
  graphic: graphics
});
</script>
</body>
</html>
